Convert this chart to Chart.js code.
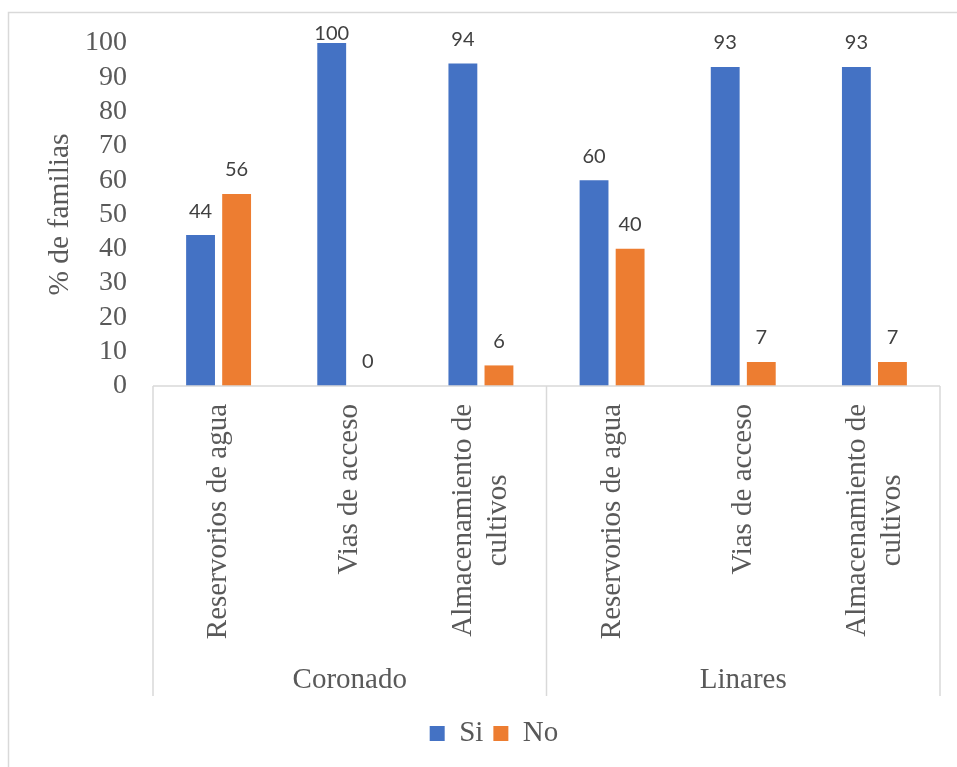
<!DOCTYPE html>
<html>
<head>
<meta charset="utf-8">
<script src="https://cdn.jsdelivr.net/npm/chart.js@4.4.1/dist/chart.umd.min.js"></script>
<style>
  html, body { margin: 0; padding: 0; background: #fff; }
  #wrap { width: 957px; height: 767px; position: relative; }
</style>
</head>
<body>
<div id="wrap"><canvas id="chart"></canvas></div>
<script>
// datos del gráfico
const subLabels = [
  ["Reservorios de agua"], ["Vias de acceso"], ["Almacenamiento de", "cultivos"],
  ["Reservorios de agua"], ["Vias de acceso"], ["Almacenamiento de", "cultivos"]
];
const groups = ["Coronado", "Linares"];
const groupSize = 3;
const siValues = [44, 100, 94, 60, 93, 93];
const noValues = [56, 0, 6, 40, 7, 7];
const seriesNames = ["Si", "No"];
const yTitle = "% de familias";

const serif = "'Liberation Serif', 'Times New Roman', serif";
const textGrey = '#595959';
const lineGrey = '#d9d9d9';

// etiquetas de datos encima de las barras
const valueLabels = {
  id: 'valueLabels',
  afterDatasetsDraw(chart) {
    const ctx = chart.ctx;
    ctx.save();
    ctx.font = "20px Lato, 'Liberation Sans', sans-serif";
    ctx.fillStyle = '#404040';
    ctx.textAlign = 'center';
    ctx.textBaseline = 'middle';
    chart.data.datasets.forEach((ds, di) => {
      chart.getDatasetMeta(di).data.forEach((el, i) => {
        ctx.fillText(String(ds.data[i]), el.x, Math.max(el.y - 24, 34));
      });
    });
    ctx.restore();
  }
};

// eje de categorías en dos niveles + marco
const multiAxis = {
  id: 'multiAxis',
  beforeDraw(chart) {
    const ctx = chart.ctx;
    ctx.save();
    ctx.strokeStyle = lineGrey;
    ctx.lineWidth = 1.5;
    ctx.beginPath();
    ctx.moveTo(8.5, chart.height);
    ctx.lineTo(8.5, 12.5);
    ctx.lineTo(chart.width, 12.5);
    ctx.stroke();
    ctx.restore();
  },
  afterDraw(chart) {
    const ctx = chart.ctx;
    const x = chart.scales.x;
    const axisY = chart.chartArea.bottom;
    const sepBottom = 696;
    const seps = [x.left];
    for (let g = 1; g < groups.length; g++) {
      seps.push((x.getPixelForValue(g * groupSize - 1) + x.getPixelForValue(g * groupSize)) / 2);
    }
    seps.push(x.right);

    ctx.save();
    ctx.strokeStyle = lineGrey;
    ctx.lineWidth = 1.5;
    ctx.beginPath();
    ctx.moveTo(x.left, axisY);
    ctx.lineTo(x.right, axisY);
    seps.forEach(sx => { ctx.moveTo(sx, axisY); ctx.lineTo(sx, sepBottom); });
    ctx.stroke();

    ctx.fillStyle = textGrey;
    ctx.font = '29px ' + serif;
    ctx.textBaseline = 'middle';
    ctx.textAlign = 'center';

    const top = axisY + 18;
    subLabels.forEach((lines, i) => {
      const cx = x.getPixelForValue(i);
      const w = Math.max(...lines.map(l => ctx.measureText(l).width));
      ctx.save();
      ctx.translate(cx, top);
      ctx.rotate(-Math.PI / 2);
      lines.forEach((l, k) => {
        ctx.fillText(l, -w / 2, (k - (lines.length - 1) / 2) * 35);
      });
      ctx.restore();
    });

    groups.forEach((g, k) => {
      ctx.fillText(g, (seps[k] + seps[k + 1]) / 2, 680);
    });
    ctx.restore();
  }
};

new Chart(document.getElementById('chart'), {
  type: 'bar',
  data: {
    labels: subLabels.map(l => l.join(' ')),
    datasets: [
      { label: seriesNames[0], data: siValues, backgroundColor: '#4472c4' },
      { label: seriesNames[1], data: noValues, backgroundColor: '#ed7d31' }
    ]
  },
  options: {
    animation: false,
    responsive: true,
    maintainAspectRatio: false,
    categoryPercentage: 0.55,
    barPercentage: 0.8,
    layout: { padding: { top: 43, right: 17, bottom: 9, left: 48 } },
    plugins: {
      tooltip: { enabled: false },
      legend: {
        position: 'bottom',
        labels: {
          boxWidth: 15, boxHeight: 15, padding: 10,
          color: textGrey,
          font: { family: serif, size: 29 }
        }
      }
    },
    scales: {
      x: {
        grid: { display: false },
        border: { display: false },
        ticks: { display: false },
        afterFit(scale) { scale.height = 323; }
      },
      y: {
        min: 0, max: 100,
        grid: { display: false, drawTicks: false },
        border: { display: false },
        ticks: { stepSize: 10, autoSkip: false, padding: 26, color: textGrey, font: { family: serif, size: 28 } },
        title: {
          display: true, text: yTitle, color: textGrey,
          font: { family: serif, size: 29.5, lineHeight: 0.8 },
          padding: { top: 0, bottom: 0 }
        },
        afterFit(scale) { scale.width = 105; }
      }
    }
  },
  plugins: [valueLabels, multiAxis]
});
</script>
</body>
</html>
